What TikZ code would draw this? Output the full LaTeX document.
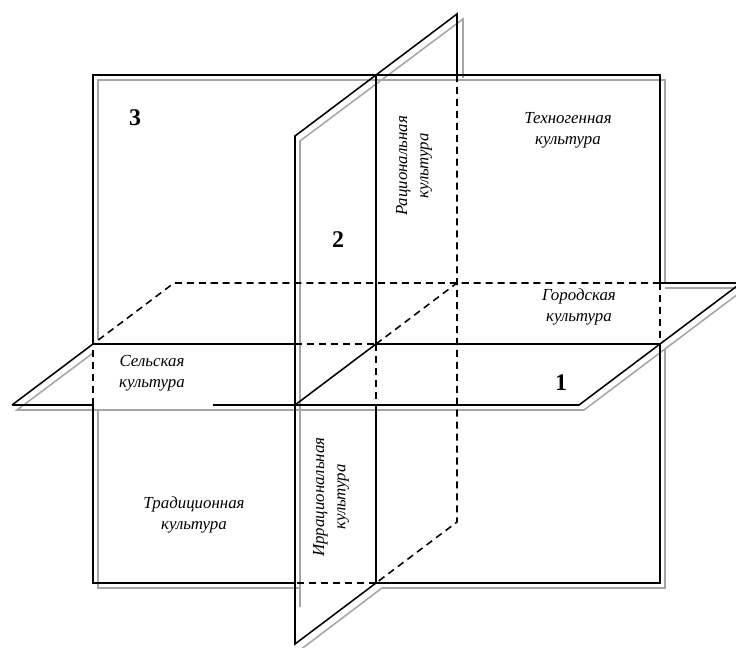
\documentclass[tikz,border=0pt]{standalone}
\usepackage{fontspec}
\setmainfont{Liberation Serif}
\usetikzlibrary{calc}

\begin{document}
\begin{tikzpicture}[x=0.025cm, y=-0.025cm,
      edge/.style={line width=1.1pt, black},
      hidden/.style={line width=1.1pt, black, dash pattern=on 5pt off 3.5pt},
      shadow/.style={line width=1.1pt, gray!70},
      lbl/.style={font=\fontsize{12}{15}\selectfont\itshape, align=center,
                 inner sep=0pt},
      num/.style={font=\fontsize{17}{20}\selectfont\bfseries, inner sep=0pt}]
      \useasboundingbox (0,0) rectangle (736,647);

      % Shadows (gray copies, shifted down-right)
      % plane 3
      \draw[shadow] (98,340) -- (98,80) -- (665,80) -- (665,283);
      \draw[shadow] (665,349) -- (665,588) -- (382,588);
      \draw[shadow] (299,588) -- (98,588) -- (98,410);
      % plane 1
      \draw[shadow] (93,353) -- (17,410) -- (584,410) -- (746,288) -- (665,288);
      % plane 2
      \draw[shadow] (300,607) -- (300,141) -- (463,19) -- (463,78);
      \draw[shadow] (382,588) -- (300,650);

      % Plane 3 (frontal)
      \draw[edge] (93,344) -- (93,75) -- (660,75) -- (660,283);
      \draw[hidden] (660,283) -- (660,344);
      \draw[edge] (660,344) -- (660,583) -- (376,583);
      \draw[hidden] (376,583) -- (295,583);
      \draw[edge] (295,583) -- (93,583) -- (93,405);
      \draw[hidden] (93,405) -- (93,344);

      % Plane 1 (horizontal)
      \draw[edge] (12,405) -- (93,405);
      \draw[edge] (213,405) -- (579,405) -- (741,283) -- (660,283);
      \draw[hidden] (660,283) -- (174,283) -- (93,344);
      \draw[edge] (93,344) -- (12,405);
      % cut with plane 3
      \draw[edge] (93,344) -- (295,344);
      \draw[hidden] (295,344) -- (376,344);
      \draw[edge] (376,344) -- (660,344);
      % cut with plane 2
      \draw[edge] (295,405) -- (376,344);
      \draw[hidden] (376,344) -- (457,283);

      % Plane 2 (sagittal)
      \draw[edge] (376,75) -- (376,344);
      \draw[hidden] (376,344) -- (376,405);
      \draw[edge] (376,405) -- (376,583) -- (295,644) -- (295,136)
        -- (457,14) -- (457,75);
      \draw[hidden] (457,75) -- (457,522) -- (376,583);

      % Numbers of the planes
      \node[num] (n3) at (135,118) {3};
      \node[num] (n2) at (338,240) {2};
      \node[num] (n1) at (561,383) {1};

      % Labels
      \node[lbl] (rural) at (152,373) {Сельская\\культура};
      \node[lbl] (urban) at (579,307) {Городская\\культура};
      \node[lbl] (techno) at (568,130) {Техногенная\\культура};
      \node[lbl] (trad) at (194,515) {Традиционная\\культура};
      \node[lbl, rotate=90] (ratio) at (414,166) {Рациональная\\культура};
      \node[lbl, rotate=90] (irratio) at (331,497) {Иррациональная\\культура};
\end{tikzpicture}
\end{document}
